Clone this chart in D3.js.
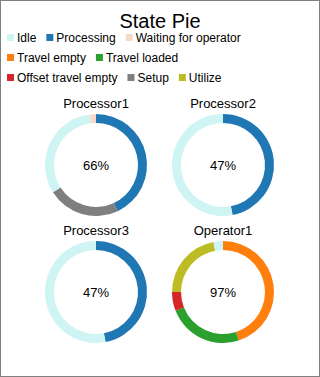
<!DOCTYPE html>
<html>
<head>
<meta charset="utf-8">
<script src="https://cdn.jsdelivr.net/npm/d3@7"></script>
<style>
  html, body { margin: 0; padding: 0; background: #fff; }
  svg { display: block; font-family: "Liberation Sans", Arial, sans-serif; }
</style>
</head>
<body>
<svg id="chart" width="320" height="377"></svg>
<script>
// state names and colours (legend order)
const states = ["Idle", "Processing", "Waiting for operator", "Travel empty",
  "Travel loaded", "Offset travel empty", "Setup", "Utilize"];
const stateColors = ["#cff4f4", "#1f77b4", "#f7d9cc", "#ff7f0e",
  "#2ca02c", "#d62728", "#7f7f7f", "#bcbd22"];

// objects and their state shares (percent)
const objects = ["Processor1", "Processor2", "Processor3", "Operator1"];
const processor1 = [{state: "Processing", v: 43}, {state: "Setup", v: 23}, {state: "Idle", v: 32}, {state: "Waiting for operator", v: 2}];
const processor2 = [{state: "Processing", v: 47}, {state: "Idle", v: 53}];
const processor3 = [{state: "Processing", v: 47}, {state: "Idle", v: 53}];
const operator1 = [{state: "Travel empty", v: 45}, {state: "Travel loaded", v: 24}, {state: "Offset travel empty", v: 6}, {state: "Utilize", v: 22}, {state: "Idle", v: 3}];
const utilization = ["66%", "47%", "47%", "97%"];

const W = 320, H = 377;
const svg = d3.select("#chart");
const color = d3.scaleOrdinal().domain(states).range(stateColors);

// frame
svg.append("rect")
  .attr("x", 0.5).attr("y", 0.5)
  .attr("width", W - 1).attr("height", H - 1)
  .attr("fill", "#fff").attr("stroke", "#808080");

// title
svg.append("text")
  .attr("x", W / 2).attr("y", 28)
  .attr("text-anchor", "middle")
  .attr("font-size", 20)
  .text("State Pie");

// legend - simple flow layout that wraps
const legend = svg.append("g").attr("class", "legend");
let lx = 7, ly = 38;
const rowH = 20, maxX = 290;
states.forEach((s, i) => {
  const item = legend.append("g");
  item.append("rect")
    .attr("width", 7).attr("height", 7)
    .attr("y", -4)
    .attr("fill", color(s));
  const t = item.append("text")
    .attr("x", 10).attr("y", 0)
    .attr("dy", "0.35em")
    .attr("font-size", 12)
    .text(s);
  const w = 10 + t.node().getComputedTextLength();
  if (lx + w > maxX) { lx = 7; ly += rowH; }
  item.attr("transform", `translate(${lx},${ly})`);
  lx += w + 10;
});

// donuts
const datasets = [processor1, processor2, processor3, operator1];
const cx = d3.scalePoint().domain([0, 1]).range([96, 223]);
const cy = d3.scalePoint().domain([0, 1]).range([165, 292]);
const pie = d3.pie().value(d => d.v).sort(null);
const arc = d3.arc().innerRadius(42).outerRadius(51);

datasets.forEach((data, i) => {
  const g = svg.append("g")
    .attr("transform", `translate(${cx(i % 2)},${cy(Math.floor(i / 2))})`);
  g.selectAll("path")
    .data(pie(data))
    .join("path")
    .attr("d", arc)
    .attr("fill", d => color(d.data.state));
  g.append("text")
    .attr("y", -57)
    .attr("text-anchor", "middle")
    .attr("font-size", 13)
    .text(objects[i]);
  g.append("text")
    .attr("y", 0)
    .attr("dy", "0.35em")
    .attr("text-anchor", "middle")
    .attr("font-size", 13)
    .text(utilization[i]);
});
</script>
</body>
</html>
